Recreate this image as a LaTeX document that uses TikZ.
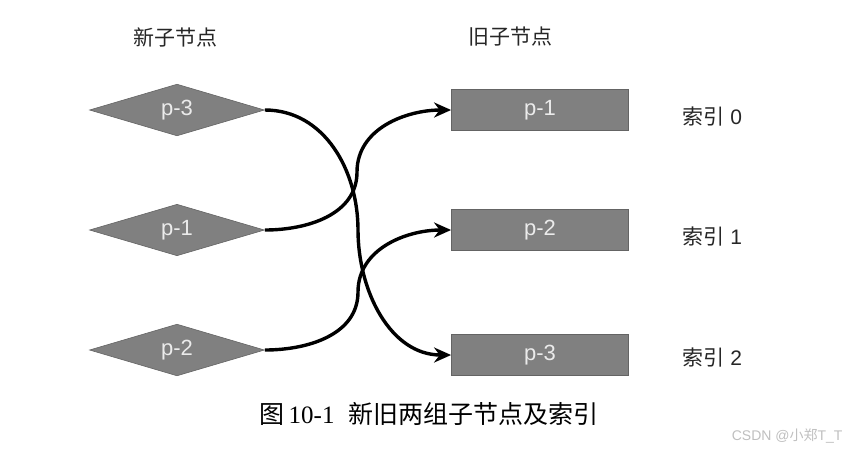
\documentclass[tikz,border=0pt]{standalone}
\usepackage{fontspec}
\setmainfont{Liberation Sans}
\newfontfamily\cjk{Noto Sans CJK SC}
\newfontfamily\serifnum{Liberation Serif}
\usepackage{tikz}
\usetikzlibrary{arrows.meta, shapes.geometric}

\begin{document}
\begin{tikzpicture}[x=1pt, y=-1pt, >={Stealth[length=17pt, width=15pt]}]
\definecolor{boxgray}{RGB}{128, 128, 128}
\definecolor{edgegray}{RGB}{100, 100, 100}
\definecolor{labelwhite}{RGB}{235, 235, 235}
\tikzset{
    newnode/.style={diamond, fill=boxgray, draw=edgegray, line width=0.6pt,
        minimum width=175pt, minimum height=50pt, inner sep=0pt,
        text=labelwhite, font=\fontsize{22}{26}\selectfont},
    oldnode/.style={rectangle, fill=boxgray, draw=edgegray, line width=0.8pt,
        minimum width=177pt, minimum height=41pt, inner sep=0pt,
        text=labelwhite, font=\fontsize{22}{26}\selectfont},
    idxlabel/.style={anchor=west, text=black!85, font=\fontsize{21}{24}\selectfont},
    link/.style={->, line width=3.4pt, black}
}
\useasboundingbox (0,0) rectangle (850,451);
% headings
\node[text=black!85, font=\cjk\fontsize{21}{24}\selectfont] (hnew) at (175,37) {新子节点};
\node[text=black!85, font=\cjk\fontsize{21}{24}\selectfont] (hold) at (510,37) {旧子节点};
% new children (diamonds)
\node[newnode] (n3) at (177,110) {p-3};
\node[newnode] (n1) at (177,230) {p-1};
\node[newnode] (n2) at (177,350) {p-2};
% old children (boxes)
\node[oldnode] (o1) at (540,110) {p-1};
\node[oldnode] (o2) at (540,230) {p-2};
\node[oldnode] (o3) at (540,355) {p-3};
% indices
\node[idxlabel] (i0) at (679,117) {{\cjk 索引} 0};
\node[idxlabel] (i1) at (679,237) {{\cjk 索引} 1};
\node[idxlabel] (i2) at (679,357) {{\cjk 索引} 2};
% links, each with a vertical middle part
\coordinate (m3) at (358,230);
\coordinate (m1) at (357,172);
\coordinate (m2) at (358,292);
\draw[link] (n3.east) to[out=0, in=90] (m3) to[out=-90, in=180] (o3.west);
\draw[link] (n1.east) to[out=0, in=-90] (m1) to[out=90, in=180] (o1.west);
\draw[link] (n2.east) to[out=0, in=-90] (m2) to[out=90, in=180] (o2.west);
% caption
\node[anchor=west, font=\fontsize{25}{28}\selectfont] (cap) at (256,414)
    {{\cjk 图}\,{\serifnum 10-1}\hspace{14pt}{\cjk 新旧两组子节点及索引}};
\node[anchor=east, text=black!25, font=\fontsize{14}{16}\selectfont] (mark) at (846,436)
    {CSDN @{\cjk 小郑}T\_T};
\end{tikzpicture}
\end{document}
